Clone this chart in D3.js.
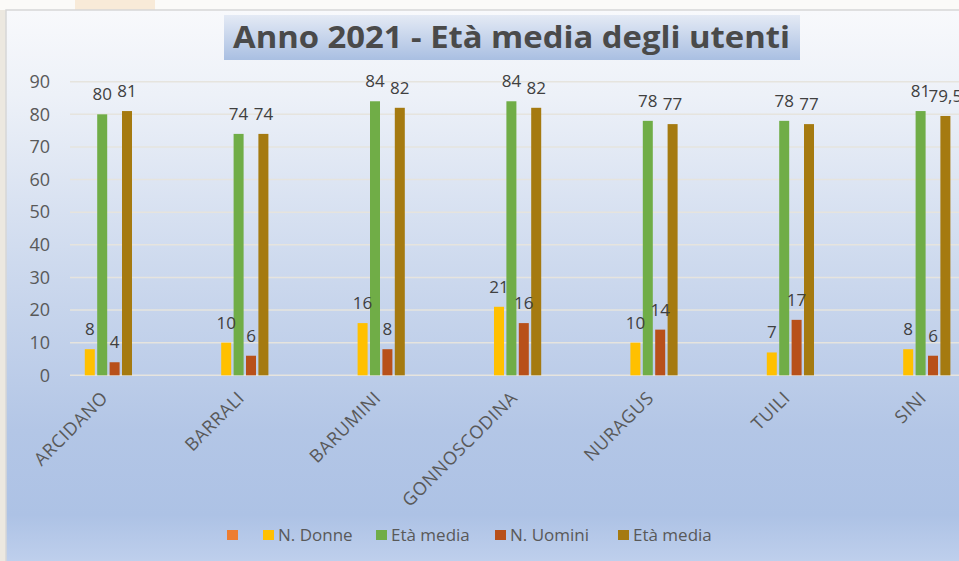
<!DOCTYPE html>
<html lang="it">
<head>
<meta charset="UTF-8" />
<script src="https://d3js.org/d3.v7.min.js"></script>
<style>
  html, body { margin: 0; padding: 0; background: #ece8e0; overflow: hidden; }
  svg { display: block; }
  text { font-family: "Open Sans", "Noto Sans", sans-serif; }
</style>
</head>
<body>
<svg id="chart"></svg>
<script>
// data
const comuni = ["ARCIDANO", "BARRALI", "BARUMINI", "GONNOSCODINA", "NURAGUS", "TUILI", "SINI"];
const seriesNames = ["", "N. Donne", "Età media", "N. Uomini", "Età media"];
const seriesColors = ["#ed7d31", "#ffc000", "#70ad47", "#b8501a", "#a57a10"];
const vuota = [null, null, null, null, null, null, null];
const nDonne = [8, 10, 16, 21, 10, 7, 8];
const etaDonne = [80, 74, 84, 84, 78, 78, 81];
const nUomini = [4, 6, 8, 16, 14, 17, 6];
const etaUomini = [81, 74, 82, 82, 77, 77, 79.5];
const yTicks = [0, 10, 20, 30, 40, 50, 60, 70, 80, 90];

const W = 959, H = 561;
const svg = d3.select("#chart").attr("width", W).attr("height", H);
const defs = svg.append("defs");

const bg = defs.append("linearGradient").attr("id", "bg")
  .attr("x1", 0).attr("y1", 0).attr("x2", 0).attr("y2", 1);
[[0, "#f8f9fc"], [0.15, "#edf1f8"], [0.45, "#cedaee"], [0.75, "#b3c6e6"], [0.9, "#adc2e5"], [1, "#c2d2ee"]]
  .forEach(s => bg.append("stop").attr("offset", s[0]).attr("stop-color", s[1]));

const tg = defs.append("linearGradient").attr("id", "titlebg")
  .attr("x1", 0).attr("y1", 0).attr("x2", 0).attr("y2", 1);
[[0, "#e4eaf5"], [1, "#a9bfe2"]]
  .forEach(s => tg.append("stop").attr("offset", s[0]).attr("stop-color", s[1]));

// page behind the chart
svg.append("rect").attr("x", 0).attr("y", 0).attr("width", W).attr("height", 10).attr("fill", "#fbfaf8");
svg.append("rect").attr("x", 75).attr("y", 0).attr("width", 80).attr("height", 10).attr("fill", "#f8ead8");
svg.append("rect").attr("x", 6).attr("y", 10).attr("width", W).attr("height", H)
  .attr("fill", "url(#bg)").attr("stroke", "#d6d6d6").attr("stroke-width", 1.5);

// title
svg.append("rect").attr("x", 224).attr("y", 15).attr("width", 576).attr("height", 45).attr("fill", "url(#titlebg)");
svg.append("text").attr("x", 233).attr("y", 48)
  .attr("textLength", 557).attr("lengthAdjust", "spacingAndGlyphs")
  .style("font-size", "30px").style("font-weight", "bold").style("fill", "#4a4a4a")
  .text("Anno 2021 - Età media degli utenti");

// scales
const y = d3.scaleLinear().domain([0, 90]).range([375.3, 81.7]);
const x0 = d3.scaleBand().domain(comuni).range([34, 34 + 7 * 136.4]);
const x1 = d3.scaleBand().domain(d3.range(seriesNames.length))
  .range([x0.bandwidth() / 2 - 31, x0.bandwidth() / 2 + 31]);

// gridlines
svg.append("g").selectAll("line").data(yTicks).join("line")
  .attr("x1", 70).attr("x2", W).attr("y1", d => y(d)).attr("y2", d => y(d))
  .attr("stroke", "#e6e4de").attr("stroke-width", 1.6);

// y axis labels
const yAxis = svg.append("g").attr("transform", "translate(58,0)")
  .call(d3.axisLeft(y).tickValues(yTicks).tickSize(0).tickPadding(8));
yAxis.select(".domain").remove();
yAxis.selectAll("text").style("font-size", "18px").style("fill", "#595959")
  .style("font-family", "'Open Sans', sans-serif");

// bars
const values = [vuota, nDonne, etaDonne, nUomini, etaUomini];
const rows = [];
values.forEach((arr, s) => arr.forEach((v, i) => {
  if (v !== null) rows.push({ s: s, c: comuni[i], v: v });
}));
const barW = 10;
const fmt = d3.formatLocale({ decimal: ",", thousands: ".", grouping: [3], currency: ["", "€"] }).format("~f");

svg.append("g").selectAll("rect").data(rows).join("rect")
  .attr("x", d => x0(d.c) + x1(d.s) + (x1.bandwidth() - barW) / 2)
  .attr("y", d => y(d.v))
  .attr("width", barW)
  .attr("height", d => y(0) - y(d.v))
  .attr("fill", d => seriesColors[d.s]);

// data labels
svg.append("g").selectAll("text").data(rows).join("text")
  .attr("x", d => x0(d.c) + x1(d.s) + x1.bandwidth() / 2)
  .attr("y", d => y(d.v) - 14)
  .attr("text-anchor", "middle")
  .style("font-size", "17px").style("fill", "#404040")
  .text(d => fmt(d.v));

// category labels
svg.append("g").selectAll("text").data(comuni).join("text")
  .attr("transform", d => `translate(${x0(d) + x0.bandwidth() / 2 + 7},${399}) rotate(-45)`)
  .attr("text-anchor", "end")
  .style("font-size", "18px").style("letter-spacing", "0.6px").style("fill", "#595959")
  .text(d => d);

// legend
const legendX = [227, 263, 376, 495, 618];
const lg = svg.append("g").selectAll("g").data(seriesNames).join("g")
  .attr("transform", (d, i) => `translate(${legendX[i]},530)`);
lg.append("rect").attr("width", 11).attr("height", 10).attr("fill", (d, i) => seriesColors[i]);
lg.append("text").attr("x", 15).attr("y", 11)
  .style("font-size", "17px").style("fill", "#595959")
  .text(d => d);
</script>
</body>
</html>
